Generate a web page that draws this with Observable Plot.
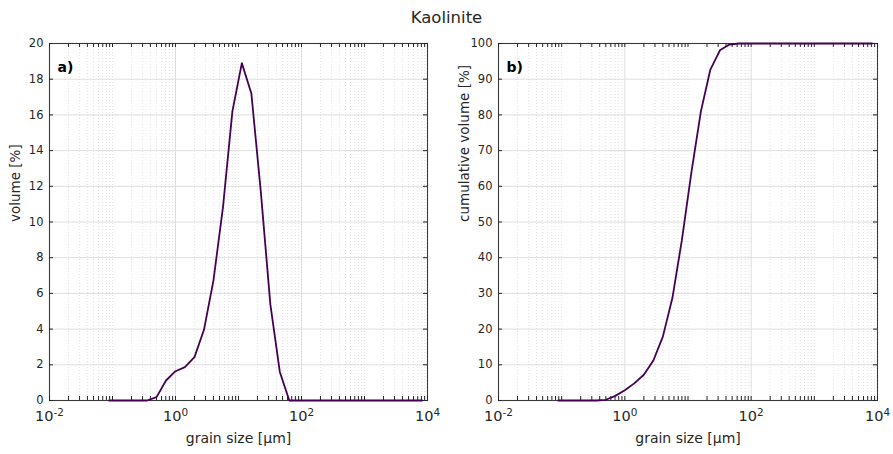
<!DOCTYPE html>
<html>
<head>
<meta charset="utf-8">
<script src="https://cdn.jsdelivr.net/npm/d3@7"></script>
<script src="https://cdn.jsdelivr.net/npm/@observablehq/plot@0.6"></script>
<style>
  body { margin: 0; background: #fff; }
  #fig { width: 893px; height: 454px; position: relative; overflow: hidden;
         font-family: "DejaVu Sans", sans-serif; color: #262626; background: #fff; }
  #title { height: 30px; line-height: 36px; text-align: center; font-size: 16.5px; }
  #panels { display: flex; }
  #panels svg { display: block; }
</style>
</head>
<body>
<div id="fig">
  <div id="title">Kaolinite</div>
  <div id="panels"></div>
</div>
<script>
// Grain-size classes (µm), half-phi steps
const grainSize = [0.0884, 0.125, 0.177, 0.25, 0.354, 0.5, 0.707, 1, 1.41, 2, 2.83, 4, 5.66, 8,
  11.3, 16, 22.6, 32, 45.3, 64, 90.5, 128, 181, 256, 362, 512, 724, 1024, 1448, 2048,
  2896, 4096, 5793, 8192];

// Volume per class (%)
const volume = [0, 0, 0, 0, 0, 0.19, 1.12, 1.64, 1.87, 2.43, 3.96, 6.72, 10.8, 16.2,
  18.9, 17.2, 11.7, 5.4, 1.6, 0, 0, 0, 0, 0, 0, 0, 0, 0, 0, 0,
  0, 0, 0, 0];

// Cumulative volume (%)
const cumulativeVolume = [0, 0, 0, 0, 0, 0.2, 1.3, 2.9, 4.8, 7.2, 11.2, 17.9, 28.7, 44.9,
  63.8, 81.0, 92.7, 98.1, 99.7, 100, 100, 100, 100, 100, 100, 100, 100, 100, 100, 100,
  100, 100, 100, 100];

const xTickValues = [0.01, 1, 100, 10000];
const xTickLabels = ["10^-2", "10^0", "10^2", "10^4"];
const volumeTicks = [0, 2, 4, 6, 8, 10, 12, 14, 16, 18, 20];
const cumulativeTicks = [0, 10, 20, 30, 40, 50, 60, 70, 80, 90, 100];

const rows = grainSize.map((g, i) => ({size: g, volume: volume[i], cumulative: cumulativeVolume[i]}));

const axisColor = "#262626";
const lineColor = "#440154";
const H = 424, MT = 13, MB = 54;
const allDecadeTicks = d3.scaleLog().domain([0.01, 10000]).ticks();
const minorXTicks = allDecadeTicks.filter(t => !xTickValues.some(v => Math.abs(v - t) / v < 1e-9));

function panel({yKey, yDomain, yTicks, yLabel, tag, width, marginLeft, marginRight}) {
  const fw = width - marginLeft - marginRight;
  const fh = H - MT - MB;
  const svg = Plot.plot({
    width, height: H,
    marginLeft, marginRight, marginTop: MT, marginBottom: MB,
    style: {fontFamily: "DejaVu Sans, sans-serif", fontSize: "11.5px", color: axisColor, background: "white"},
    x: {type: "log", domain: [0.01, 10000]},
    y: {domain: yDomain},
    marks: [
      Plot.gridX(minorXTicks, {stroke: "#d4d4d4", strokeOpacity: 1, strokeDasharray: "1,2", strokeWidth: 0.7}),
      Plot.gridX(xTickValues, {stroke: "#dedede", strokeOpacity: 1}),
      Plot.gridY(yTicks, {stroke: "#dedede", strokeOpacity: 1}),
      Plot.frame({stroke: "#3a3a3a", strokeWidth: 1.1}),
      // inward tick marks on all four sides
      Plot.tickX(allDecadeTicks, {x: d => d, stroke: axisColor, insetTop: fh - 4}),
      Plot.tickX(allDecadeTicks, {x: d => d, stroke: axisColor, insetBottom: fh - 4}),
      Plot.tickY(yTicks, {y: d => d, stroke: axisColor, insetRight: fw - 4}),
      Plot.tickY(yTicks, {y: d => d, stroke: axisColor, insetLeft: fw - 4}),
      Plot.axisX({ticks: xTickValues, tickSize: 0, tickPadding: 10, fontSize: 14.5, label: null,
        tickFormat: d => xTickLabels[xTickValues.findIndex(v => Math.abs(v - d) / v < 1e-9)]}),
      Plot.axisY({ticks: yTicks, tickSize: 0, tickPadding: 6, label: null}),
      Plot.line(rows, {x: "size", y: yKey, stroke: lineColor, strokeWidth: 1.8}),
      Plot.text([tag], {text: d => d, frameAnchor: "top-left", dx: 8, dy: 19, textAnchor: "start",
        fontWeight: "bold", fontSize: 14, fill: "#000"}),
      Plot.text(["grain size [μm]"], {text: d => d, frameAnchor: "bottom", dy: 42, fontSize: 14,
        fill: axisColor, ariaLabel: "x-axis title"}),
      Plot.text([yLabel], {text: d => d, frameAnchor: "left", dx: -34, rotate: -90, fontSize: 13.5,
        fill: axisColor})
    ]
  });
  // superscript exponents on the decade labels
  svg.querySelectorAll('g[aria-label="x-axis tick label"] text').forEach(t => {
    const parts = t.textContent.split("^");
    if (parts.length !== 2) return;
    t.textContent = parts[0];
    const sup = document.createElementNS("http://www.w3.org/2000/svg", "tspan");
    sup.setAttribute("dy", "-0.5em");
    sup.setAttribute("font-size", "0.72em");
    sup.textContent = parts[1];
    t.appendChild(sup);
  });
  // italic mu in the axis title
  svg.querySelectorAll('g[aria-label="x-axis title"] text').forEach(t => {
    t.textContent = "grain size [";
    const mu = document.createElementNS("http://www.w3.org/2000/svg", "tspan");
    mu.setAttribute("font-style", "italic");
    mu.textContent = "μ";
    t.appendChild(mu);
    t.appendChild(document.createTextNode("m]"));
  });
  return svg;
}

const panels = document.getElementById("panels");
panels.appendChild(panel({yKey: "volume", yDomain: [0, 20], yTicks: volumeTicks, yLabel: "volume [%]",
  tag: "a)", width: 446, marginLeft: 49, marginRight: 19}));
panels.appendChild(panel({yKey: "cumulative", yDomain: [0, 100], yTicks: cumulativeTicks,
  yLabel: "cumulative volume [%]", tag: "b)", width: 447, marginLeft: 52, marginRight: 16}));
</script>
</body>
</html>
